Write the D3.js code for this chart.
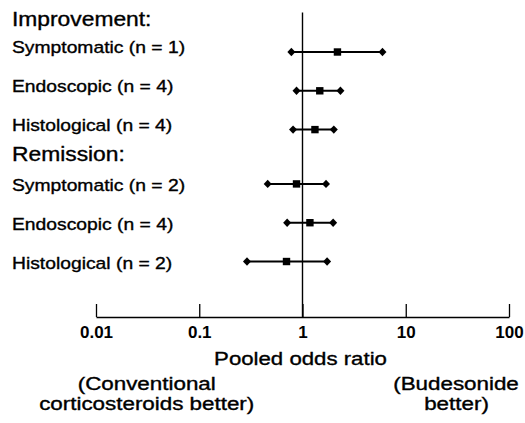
<!DOCTYPE html>
<html>
<head>
<meta charset="utf-8">
<script src="https://cdn.jsdelivr.net/npm/d3@7"></script>
<style>
  html, body { margin: 0; padding: 0; background: #fff; }
  svg { display: block; }
  text { font-family: "Liberation Sans", Arial, sans-serif; fill: #000; }
</style>
</head>
<body>
<svg id="chart" width="525" height="423"></svg>
<script>
// ---- data ----
const groups = ["Improvement:", "Remission:"];
const categories = ["Symptomatic (n = 1)", "Endoscopic (n = 4)", "Histological (n = 4)",
                    "Symptomatic (n = 2)", "Endoscopic (n = 4)", "Histological (n = 2)"];
const groupIndex = [0, 0, 0, 1, 1, 1];
const oddsRatio = [2.18, 1.47, 1.32, 0.875, 1.18, 0.70];
const ciLow     = [0.78, 0.875, 0.81, 0.46, 0.71, 0.29];
const ciHigh    = [5.95, 2.33, 2.01, 1.69, 1.98, 1.73];
const tickValues = [0.01, 0.1, 1, 10, 100];
const tickLabels = ["0.01", "0.1", "1", "10", "100"];
const axisTitle = "Pooled odds ratio";
const leftNote = ["(Conventional", "corticosteroids better)"];
const rightNote = ["(Budesonide", "better)"];

// ---- layout ----
const svg = d3.select("#chart");
const SX = 1.17; // horizontal stretch of the original lettering
const axisY = 317;
const x = d3.scaleLog().domain([0.01, 100]).range([96, 509]);
// row slot: index within list plus an extra gap before the second group
const slot = categories.map((c, i) => i + groupIndex[i] * 0.4);
const y = d3.scaleLinear().domain([0, 1]).range([52, 90.8]);

function txt(str, tx, ty, size, anchor, sx) {
  svg.append("text")
    .attr("transform", `translate(${tx},${ty}) scale(${sx || SX},1)`)
    .attr("text-anchor", anchor || "start")
    .attr("font-size", size)
    .attr("stroke", "#000").attr("stroke-width", 0.35)
    .text(str);
}

// reference line at OR = 1
svg.append("line")
  .attr("x1", x(1)).attr("x2", x(1))
  .attr("y1", 12.5).attr("y2", axisY)
  .attr("stroke", "#000").attr("stroke-width", 1.4);

// axis
const axis = d3.axisBottom(x)
  .tickValues(tickValues)
  .tickFormat((d, i) => tickLabels[i])
  .tickSizeInner(-13)
  .tickSizeOuter(0)
  .tickPadding(9);
const ag = svg.append("g").attr("transform", `translate(0,${axisY})`).call(axis);
ag.select(".domain").attr("stroke", "#000").attr("stroke-width", 1.5);
ag.selectAll(".tick line").attr("stroke", "#000").attr("stroke-width", 1.3);
ag.selectAll(".tick text")
  .attr("font-family", "Liberation Sans, Arial, sans-serif")
  .attr("font-size", 17).attr("font-weight", "bold").attr("fill", "#000");

// group headers
txt(groups[0], 12, 25.5, 19.5);
txt(groups[1], 12, 161, 19.5);

// row labels
categories.forEach((c, i) => {
  txt(c, 12, y(slot[i]) + 1 + groupIndex[i] * 6, 16.5);
});

// CI lines
const rows = categories.map((c, i) => ({ c, i, or: oddsRatio[i], lo: ciLow[i], hi: ciHigh[i], yy: y(slot[i]) }));
svg.selectAll("line.ci").data(rows).enter().append("line")
  .attr("class", "ci")
  .attr("x1", d => x(d.lo)).attr("x2", d => x(d.hi))
  .attr("y1", d => d.yy).attr("y2", d => d.yy)
  .attr("stroke", "#000").attr("stroke-width", 2);

// diamonds at CI ends
const diamond = "M0,-4.2L4,0L0,4.2L-4,0Z";
rows.forEach(d => {
  [d.lo, d.hi].forEach(v => {
    svg.append("path").attr("d", diamond)
      .attr("transform", `translate(${x(v)},${d.yy})`)
      .attr("fill", "#000");
  });
});

// squares at point estimate
svg.selectAll("rect.pt").data(rows).enter().append("rect")
  .attr("class", "pt")
  .attr("x", d => x(d.or) - 3.7).attr("y", d => d.yy - 3.7)
  .attr("width", 7.4).attr("height", 7.4)
  .attr("fill", "#000");

// axis title and notes
txt(axisTitle, 300.5, 365, 19, "middle");
txt(leftNote[0], 146.7, 389.5, 17.5, "middle", 1.28);
txt(leftNote[1], 146.7, 409.5, 17.5, "middle", 1.28);
txt(rightNote[0], 456, 389.5, 17.5, "middle", 1.28);
txt(rightNote[1], 456.5, 409.5, 17.5, "middle", 1.28);
</script>
</body>
</html>
